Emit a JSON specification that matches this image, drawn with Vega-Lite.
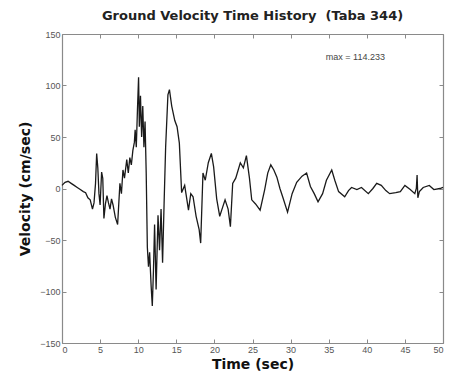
{
  "$schema": "https://vega.github.io/schema/vega-lite/v6.json",
  "width": 381,
  "height": 309,
  "autosize": {"type": "none"},
  "padding": {"left": 62, "top": 34, "right": 8, "bottom": 42},
  "background": "white",
  "config": {
    "view": {"stroke": null},
    "font": "Liberation Sans",
    "axis": {
      "grid": false,
      "domainColor": "#8a8a8a",
      "domainWidth": 1.2,
      "tickColor": "#8a8a8a",
      "tickSize": -4,
      "labelFont": "Liberation Sans",
      "labelFontSize": 9,
      "labelColor": "#555555",
      "titleFont": "DejaVu Sans",
      "titleFontSize": 14,
      "titleFontWeight": "bold",
      "titleColor": "#111111"
    }
  },
  "title": {
    "text": "Ground Velocity Time History\u00a0\u00a0(Taba 344)",
    "font": "DejaVu Sans",
    "fontSize": 13,
    "fontWeight": "bold",
    "color": "#222222",
    "anchor": "middle",
    "offset": 7
  },
  "data": {
    "values": [
      {"t": 0.0, "v": 3}, {"t": 0.4, "v": 6}, {"t": 0.8, "v": 7}, {"t": 1.2, "v": 5},
      {"t": 1.6, "v": 3}, {"t": 2.0, "v": 1}, {"t": 2.4, "v": -1}, {"t": 2.8, "v": -3},
      {"t": 3.1, "v": -4}, {"t": 3.4, "v": -9}, {"t": 3.7, "v": -11}, {"t": 4.0, "v": -20},
      {"t": 4.2, "v": -14}, {"t": 4.4, "v": 5}, {"t": 4.55, "v": 34}, {"t": 4.7, "v": 20},
      {"t": 4.85, "v": -5}, {"t": 5.0, "v": -16}, {"t": 5.2, "v": 16}, {"t": 5.35, "v": 10},
      {"t": 5.5, "v": -29}, {"t": 5.7, "v": -15}, {"t": 5.9, "v": -7}, {"t": 6.1, "v": -14},
      {"t": 6.3, "v": -20}, {"t": 6.5, "v": -10}, {"t": 6.7, "v": -16}, {"t": 7.0, "v": -28},
      {"t": 7.3, "v": -35}, {"t": 7.6, "v": 5}, {"t": 7.8, "v": -5}, {"t": 8.0, "v": 18},
      {"t": 8.2, "v": 10}, {"t": 8.5, "v": 28}, {"t": 8.7, "v": 15}, {"t": 8.9, "v": 30},
      {"t": 9.1, "v": 23}, {"t": 9.3, "v": 37}, {"t": 9.5, "v": 45}, {"t": 9.6, "v": 57},
      {"t": 9.75, "v": 40}, {"t": 9.9, "v": 76}, {"t": 10.05, "v": 108}, {"t": 10.15, "v": 60},
      {"t": 10.3, "v": 90}, {"t": 10.45, "v": 50}, {"t": 10.6, "v": 80}, {"t": 10.75, "v": 40},
      {"t": 10.9, "v": 65}, {"t": 11.05, "v": 15}, {"t": 11.2, "v": -57}, {"t": 11.35, "v": -76},
      {"t": 11.5, "v": -62}, {"t": 11.7, "v": -95}, {"t": 11.85, "v": -114}, {"t": 12.0, "v": -80},
      {"t": 12.15, "v": -35}, {"t": 12.35, "v": -98}, {"t": 12.6, "v": -26}, {"t": 12.8, "v": -60},
      {"t": 13.0, "v": -20}, {"t": 13.2, "v": -72}, {"t": 13.4, "v": -14}, {"t": 13.6, "v": 40},
      {"t": 13.9, "v": 91}, {"t": 14.1, "v": 96}, {"t": 14.4, "v": 80}, {"t": 14.8, "v": 66},
      {"t": 15.1, "v": 60}, {"t": 15.4, "v": 44}, {"t": 15.7, "v": -4}, {"t": 16.1, "v": 3},
      {"t": 16.6, "v": -21}, {"t": 16.9, "v": -5}, {"t": 17.2, "v": -8}, {"t": 17.6, "v": -27},
      {"t": 18.0, "v": -40}, {"t": 18.2, "v": -53}, {"t": 18.5, "v": 15}, {"t": 18.8, "v": 8},
      {"t": 19.2, "v": 25}, {"t": 19.6, "v": 34}, {"t": 19.9, "v": 21}, {"t": 20.3, "v": -10},
      {"t": 20.7, "v": -27}, {"t": 21.0, "v": -20}, {"t": 21.4, "v": -11}, {"t": 21.8, "v": -20},
      {"t": 22.1, "v": -37}, {"t": 22.4, "v": 5}, {"t": 22.8, "v": 10}, {"t": 23.4, "v": 25},
      {"t": 23.8, "v": 20}, {"t": 24.2, "v": 32}, {"t": 24.6, "v": 10}, {"t": 24.9, "v": -11},
      {"t": 25.4, "v": -15}, {"t": 26.0, "v": -21}, {"t": 26.6, "v": -1}, {"t": 27.0, "v": 15},
      {"t": 27.4, "v": 23}, {"t": 27.8, "v": 18}, {"t": 28.2, "v": 11}, {"t": 28.6, "v": 0},
      {"t": 29.0, "v": -9}, {"t": 29.6, "v": -23}, {"t": 30.2, "v": -5}, {"t": 30.8, "v": 6},
      {"t": 31.5, "v": 12}, {"t": 32.1, "v": 15}, {"t": 32.6, "v": 2}, {"t": 33.1, "v": -5},
      {"t": 33.6, "v": -13}, {"t": 34.2, "v": -5}, {"t": 34.7, "v": 8}, {"t": 35.4, "v": 18},
      {"t": 35.8, "v": 8}, {"t": 36.3, "v": -3}, {"t": 37.1, "v": -8}, {"t": 37.6, "v": -2},
      {"t": 38.0, "v": 1}, {"t": 38.7, "v": -1}, {"t": 39.3, "v": 1}, {"t": 40.2, "v": -5},
      {"t": 40.8, "v": 0}, {"t": 41.3, "v": 5}, {"t": 41.9, "v": 3}, {"t": 42.5, "v": -2},
      {"t": 43.0, "v": -5}, {"t": 43.8, "v": -4}, {"t": 44.4, "v": -3}, {"t": 45.0, "v": 3},
      {"t": 45.7, "v": -1}, {"t": 46.3, "v": -5}, {"t": 46.5, "v": 0}, {"t": 46.6, "v": 13},
      {"t": 46.7, "v": -9}, {"t": 46.9, "v": -3}, {"t": 47.4, "v": 1}, {"t": 48.2, "v": 3},
      {"t": 48.8, "v": -1}, {"t": 49.6, "v": 0}, {"t": 50.0, "v": 1}
    ]
  },
  "layer": [
    {
      "mark": {"type": "line", "color": "#1a1a1a", "strokeWidth": 1.3},
      "encoding": {
        "x": {
          "field": "t", "type": "quantitative",
          "scale": {"domain": [0, 50], "nice": false, "zero": false},
          "axis": {"title": "Time (sec)", "values": [0,5,10,15,20,25,30,35,40,45,50], "labelPadding": 6, "titlePadding": 3, "orient": "bottom"}
        },
        "y": {
          "field": "v", "type": "quantitative",
          "scale": {"domain": [-150, 150], "nice": false},
          "axis": {"title": "Velocity (cm/sec)", "titleFontSize": 14, "values": [-150,-100,-50,0,50,100,150], "labelPadding": 6, "titlePadding": 7, "orient": "left"}
        }
      }
    },
    {
      "mark": {"type": "point", "opacity": 0},
      "encoding": {
        "x": {"field": "t", "type": "quantitative", "axis": {"orient": "top", "labels": false, "title": null, "values": [0,5,10,15,20,25,30,35,40,45,50]}},
        "y": {"field": "v", "type": "quantitative", "axis": {"orient": "right", "labels": false, "title": null, "values": [-150,-100,-50,0,50,100,150]}}
      }
    },
    {
      "data": {"values": [{"label": "max =  114.233"}]},
      "mark": {"type": "text", "font": "Liberation Sans", "fontSize": 9, "color": "#444444", "align": "center", "baseline": "middle"},
      "encoding": {
        "x": {"datum": 38.5, "type": "quantitative", "axis": null},
        "y": {"datum": 128, "type": "quantitative", "axis": null},
        "text": {"field": "label"}
      }
    }
  ],
  "resolve": {"axis": {"x": "independent", "y": "independent"}}
}
